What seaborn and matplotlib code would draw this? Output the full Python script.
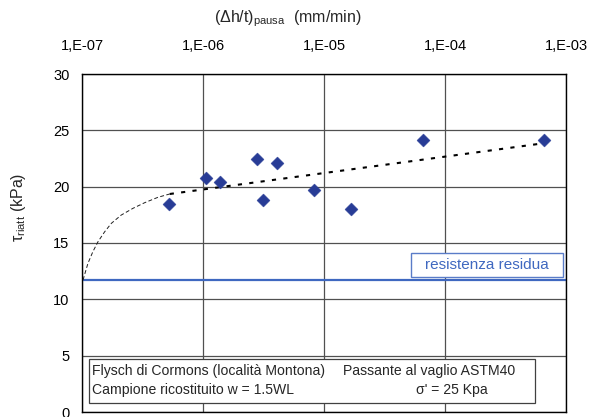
import matplotlib
matplotlib.use("Agg")
import matplotlib.pyplot as plt
import matplotlib.ticker as mticker
from matplotlib.patches import Rectangle
import seaborn as sns
import pandas as pd

# ---- data ----
rate = [5.2e-7, 1.05e-6, 1.39e-6, 2.78e-6, 3.15e-6, 4.11e-6, 8.26e-6, 1.66e-5, 6.6e-5, 6.6e-4]
tau = [18.5, 20.8, 20.4, 22.5, 18.8, 22.1, 19.7, 18.0, 24.1, 24.1]

curve_x = [1.02e-7, 1.12e-7, 1.23e-7, 1.355e-7, 1.54e-7, 1.75e-7, 2.11e-7,
           2.64e-7, 3.30e-7, 4.25e-7, 5.31e-7]
curve_y = [11.72, 13.2, 14.23, 15.11, 16.0, 16.75, 17.48, 18.08, 18.58, 19.06, 19.35]

trend_x = [5.31e-7, 6.6e-4]
trend_y = [19.35, 23.86]

residual = 11.7
xticks = [1e-7, 1e-6, 1e-5, 1e-4, 1e-3]
xtick_labels = ["1,E-07", "1,E-06", "1,E-05", "1,E-04", "1,E-03"]
yticks = [0, 5, 10, 15, 20, 25, 30]

sns.set_theme(style="white")
plt.rcParams["font.family"] = ["Liberation Sans", "DejaVu Sans"]
plt.rcParams["mathtext.fontset"] = "custom"
plt.rcParams["mathtext.rm"] = "Liberation Sans"
plt.rcParams["mathtext.it"] = "Liberation Sans:italic"

FS = 10.5
BFS = 10.1

fig = plt.figure(figsize=(5.92, 4.17), dpi=100)
ax = fig.add_axes([82/592, 1-412/417, 484/592, 338/417])

pts = pd.DataFrame({"rate": rate, "tau": tau})
cdf = pd.DataFrame({"x": curve_x, "y": curve_y})
tdf = pd.DataFrame({"x": trend_x, "y": trend_y})

ax.set_xscale("log")
ax.set_xlim(1e-7, 1e-3)
ax.set_ylim(0, 30)

ax.axhline(residual, color="#3F68C0", lw=1.6, zorder=2)
sns.lineplot(data=cdf, x="x", y="y", ax=ax, color="#202020", lw=0.7,
             sort=False, zorder=3)
ax.lines[-1].set_dashes((4, 2.5))
sns.lineplot(data=tdf, x="x", y="y", ax=ax, color="black", lw=1.5, sort=False, zorder=3)
ax.lines[-1].set_dashes((2, 3.5))
sns.scatterplot(data=pts, x="rate", y="tau", ax=ax, marker="D", s=44,
                color="#283C96", edgecolor="#283C96", linewidth=0.3, zorder=4)

ax.set_xticks(xticks)
ax.set_xticklabels(xtick_labels)
ax.xaxis.set_minor_locator(mticker.NullLocator())
ax.set_yticks(yticks)
ax.tick_params(axis="x", top=True, labeltop=True, bottom=False, labelbottom=False,
               length=0, pad=15, labelsize=FS, colors="black")
ax.tick_params(axis="y", length=0, pad=9, labelsize=FS, colors="black")
ax.set_xlabel("")
ax.set_ylabel("")
ax.grid(True, which="major", color="#505050", lw=0.9)
ax.set_axisbelow(True)
for s in ax.spines.values():
    s.set_color("black")
    s.set_linewidth(1.0)

fig.text(288/592, 1-19/417, r"($\Delta$h/t)$_{\mathrm{pausa}}$  (mm/min)",
         ha="center", va="center", fontsize=11.5)
fig.text(19/592, 1-207/417, r"τ$_{\mathrm{riatt}}$ (kPa)", rotation=90,
         ha="center", va="center", fontsize=11.5)

# residual strength box
ax.add_patch(Rectangle((0.679, 0.400), 0.3154, 0.071, transform=ax.transAxes,
                       facecolor="white", edgecolor="#5A7CC8", lw=1.0, zorder=5))
ax.text(0.8367, 0.4358, "resistenza residua", transform=ax.transAxes,
        ha="center", va="center", fontsize=11, color="#3F68C0", zorder=6)

# info box
ax.add_patch(Rectangle((0.015, 0.0266), 0.921, 0.1294, transform=ax.transAxes,
                       facecolor="white", edgecolor="#404040", lw=0.9, zorder=5))
ax.text(0.020, 0.1213, "Flysch di Cormons (località Montona)", transform=ax.transAxes,
        ha="left", va="center", fontsize=BFS, zorder=6)
ax.text(0.5386, 0.1213, "Passante al vaglio ASTM40", transform=ax.transAxes,
        ha="left", va="center", fontsize=BFS, zorder=6)
ax.text(0.020, 0.0651, "Campione ricostituito w = 1.5WL", transform=ax.transAxes,
        ha="left", va="center", fontsize=BFS, zorder=6)
ax.text(0.690, 0.0651, "σ' = 25 Kpa", transform=ax.transAxes,
        ha="left", va="center", fontsize=BFS, zorder=6)

fig.savefig("out.png", dpi=100)
